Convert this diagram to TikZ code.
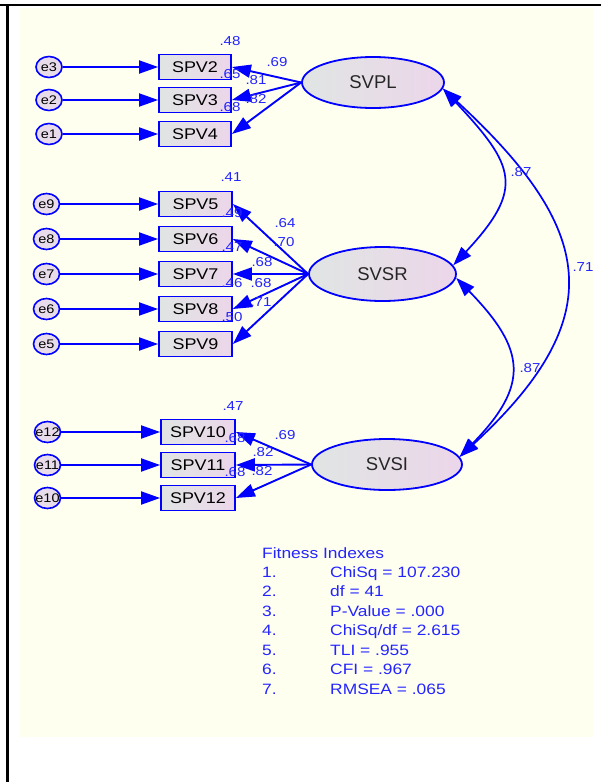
\documentclass[tikz,border=0pt]{standalone}
\usepackage{fontspec}
\setmainfont{Liberation Sans}
\newfontfamily\widesf[FakeStretch=1.16]{Liberation Sans}
\usetikzlibrary{arrows.meta,shapes.geometric}
\definecolor{amosblue}{HTML}{0000FF}
\definecolor{labelblue}{HTML}{2424FF}
\definecolor{bgcream}{HTML}{FFFFF0}
\definecolor{shadegrey}{HTML}{E0E5E3}
\definecolor{shadepink}{HTML}{ECD6EA}
\definecolor{errlilac}{HTML}{E8DCEA}

\begin{document}
\begin{tikzpicture}[x=1pt, y=-1pt,
  obsbox/.style={rectangle, draw=amosblue, line width=1.8pt,
    left color=shadegrey, right color=shadepink, minimum width=72pt,
    minimum height=25pt, inner sep=0pt,
    font=\widesf\fontsize{15.5}{18}\selectfont},
  latent/.style={ellipse, draw=amosblue, line width=1.8pt,
    left color=shadegrey, right color=shadepink, inner sep=0pt,
    text=black!85, font=\fontsize{18.5}{21}\selectfont},
  errnode/.style={ellipse, draw=amosblue, line width=1.6pt, fill=errlilac,
    minimum width=26pt, minimum height=21pt, inner sep=0pt,
    font=\widesf\fontsize{12.5}{14}\selectfont},
  lbl/.style={text=labelblue, inner sep=0pt,
    font=\widesf\fontsize{13}{14}\selectfont},
  fittext/.style={text=labelblue, inner sep=0pt, anchor=base west,
    font=\widesf\fontsize{15}{18}\selectfont},
  arr/.style={amosblue, line width=1.9pt, -{Triangle[length=19pt,width=13pt]}},
  cov/.style={amosblue, line width=1.7pt,
    {Triangle[length=19pt,width=13pt]}-{Triangle[length=19pt,width=13pt]}}]
  \useasboundingbox (0,0) rectangle (601,782);

  %% Cell frame and cream canvas
  \fill[bgcream] (20,8) rectangle (593,737);
  \draw[line width=2.2pt] (0,5) -- (601,5);
  \draw[line width=2.2pt] (7.5,5) -- (7.5,782);

  %% Latent factors
  \node[latent, minimum width=142pt, minimum height=51pt] (SVPL) at (373,82.5) {SVPL};
  \node[latent, minimum width=147pt, minimum height=54pt] (SVSR) at (382.5,274) {SVSR};
  \node[latent, minimum width=150pt, minimum height=51pt] (SVSI) at (387,464.5) {SVSI};

  %% SVPL indicators
  \foreach \e/\v/\y in {3/2/67, 2/3/100, 1/4/134} {
    \node[errnode] (e\e) at (49,\y) {\makebox[0pt]{e\e}};
    \node[obsbox] (SPV\v) at (195,\y) {SPV\v};
    \draw[arr] (e\e) -- (SPV\v);
    \draw[arr] (SVPL.west) -- (SPV\v.east);
  }

  %% SVSR indicators
  \foreach \e/\v/\y in {9/5/204, 8/6/239, 7/7/274, 6/8/309, 5/9/344} {
    \node[errnode] (e\e) at (46.5,\y) {\makebox[0pt]{e\e}};
    \node[obsbox, minimum width=73pt] (SPV\v) at (195.5,\y) {SPV\v};
    \draw[arr] (e\e) -- (SPV\v);
    \draw[arr] (SVSR.west) -- (SPV\v.east);
  }

  %% SVSI indicators
  \foreach \e/\v/\y in {12/10/432, 11/11/465, 10/12/498} {
    \node[errnode] (e\e) at (47.5,\y) {\makebox[0pt]{e\e}};
    \node[obsbox, minimum width=74pt] (SPV\v) at (198,\y) {SPV\v};
    \draw[arr] (e\e) -- (SPV\v);
    \draw[arr] (SVSI.west) -- (SPV\v.east);
  }

  %% Factor correlations
  \draw[cov] (SVPL.-5) .. controls +(72,77) and +(72,-77) .. (SVSR.7);
  \draw[cov] (SVSR.-3) .. controls +(70,72) and +(70,-72) .. (SVSI.6);
  \draw[cov] (SVPL.-5) .. controls +(152,140) and +(152,-140) .. (SVSI.6);

  %% Estimates
  \foreach \t/\x/\y [count=\i] in {.48/230/41, .65/230/74, .68/230/107,
      .69/277/62, .81/256/80, .82/256/99,
      .41/231/177, .49/232/213, .47/232/247, .46/232/283, .50/232/317,
      .64/285/223, .70/284/242, .68/262/262, .68/261/283, .71/261/302,
      .47/233/406, .68/235/438, .68/235/472,
      .69/285/435, .82/263/452, .82/262/471,
      .87/521/172, .87/530/368, .71/583/267}
    \node[lbl] (est\i) at (\x,\y) {\t};

  %% Fit summary
  \node[fittext] (fithead) at (262,558) {Fitness Indexes};
  \foreach \t [count=\i] in {ChiSq = 107.230, df = 41, P-Value = .000,
      {ChiSq/df = 2.615}, TLI = .955, CFI = .967, RMSEA = .065} {
    \node[fittext] (fitnum\i) at (262,{558+19.43*\i}) {\i.};
    \node[fittext] (fitval\i) at (330,{558+19.43*\i}) {\t};
  }
\end{tikzpicture}
\end{document}
